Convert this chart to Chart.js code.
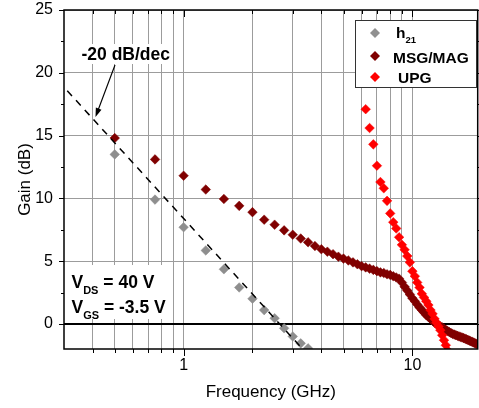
<!DOCTYPE html>
<html>
<head>
<meta charset="utf-8">
<script src="https://cdn.jsdelivr.net/npm/chart.js@4.4.1/dist/chart.umd.min.js"></script>
<style>
  html, body { margin: 0; background: #fff; overflow: hidden; }
  #wrap { width: 483px; height: 408px; }
</style>
</head>
<body>
<div id="wrap"><canvas id="chart"></canvas></div>
<script>
// data (GHz, dB)
const h21Freq = [0.5, 0.75, 1.0, 1.25, 1.5, 1.75, 2.0, 2.25, 2.5, 2.75, 3.0, 3.25, 3.5, 3.75];
const h21Gain = [13.5, 9.9, 7.7, 5.85, 4.35, 2.9, 2.0, 1.1, 0.45, -0.35, -1.0, -1.55, -1.95, -2.5];

const msgFreq = [
  0.5, 0.75, 1.0, 1.25, 1.5, 1.75, 2.0, 2.25, 2.5, 2.75,
  3.0, 3.25, 3.5, 3.75, 4.0, 4.25, 4.5, 4.75, 5.0, 5.25,
  5.5, 5.75, 6.0, 6.25, 6.5, 6.75, 7.0, 7.25, 7.5, 7.75,
  8.0, 8.25, 8.5, 8.75, 9.0, 9.25, 9.5, 9.75, 10.0, 10.25,
  10.5, 10.75, 11.0, 11.25, 11.5, 11.75, 12.0, 12.25, 12.5, 12.75,
  13.0, 13.25, 13.5, 13.75, 14.0, 14.25, 14.5, 14.75, 15.0, 15.25,
  15.5, 15.75, 16.0, 16.25, 16.5, 16.75, 17.0, 17.25, 17.5, 17.75,
  18.0, 18.25, 18.5, 18.75, 19.0, 19.25
];
const msgGain = [
  14.8, 13.1, 11.8, 10.7, 9.95, 9.4, 8.9, 8.3, 7.9, 7.45,
  7.1, 6.8, 6.5, 6.2, 5.95, 5.75, 5.55, 5.35, 5.2, 5.05,
  4.9, 4.75, 4.6, 4.5, 4.4, 4.3, 4.2, 4.1, 4.05, 3.95,
  3.9, 3.8, 3.7, 3.6, 3.3, 2.95, 2.65, 2.35, 2.05, 1.8,
  1.55, 1.3, 1.1, 0.9, 0.7, 0.55, 0.4, 0.25, 0.1, 0.0,
  -0.1, -0.2, -0.28, -0.38, -0.48, -0.57, -0.65, -0.73, -0.8, -0.85,
  -0.9, -0.95, -1.0, -1.04, -1.08, -1.13, -1.18, -1.23, -1.28, -1.33,
  -1.38, -1.43, -1.48, -1.53, -1.58, -1.63
];

const upgFreq = [
  6.25, 6.5, 6.75, 7.0, 7.25, 7.5, 7.75, 8.0, 8.25, 8.5,
  8.75, 9.0, 9.25, 9.5, 9.75, 10.0, 10.25, 10.5, 10.75, 11.0,
  11.25, 11.5, 11.75, 12.0, 12.25, 12.5, 12.75, 13.0, 13.25, 13.5,
  13.75, 14.0, 14.25
];
const upgGain = [
  17.1, 15.6, 14.3, 12.6, 11.3, 10.8, 9.8, 8.8, 8.1, 7.6,
  6.9, 6.3, 5.9, 5.4, 4.9, 4.2, 3.8, 3.3, 2.9, 2.4,
  2.1, 1.8, 1.5, 1.1, 0.8, 0.4, 0.1, -0.2, -0.5, -0.9,
  -1.3, -1.7, -2.1
];

// -20 dB/dec guide line end points
const slopeFreq = [0.31, 3.6];
const slopeGain = [18.57, -2.73];

const xGridTicks = [0.4, 0.5, 0.6, 0.7, 0.8, 0.9, 1, 2, 3, 4, 5, 6, 7, 8, 9, 10];
const xLabelTicks = [1, 10];
const yTicks = [0, 5, 10, 15, 20, 25];
const yMinorTicks = [2.5, 7.5, 12.5, 17.5, 22.5];

const FONT = "'Liberation Sans', Arial, sans-serif";

function toPoints(xs, ys) {
  return xs.map((v, i) => ({ x: v, y: ys[i] }));
}

function line(ctx, x1, y1, x2, y2) {
  ctx.beginPath();
  ctx.moveTo(x1, y1);
  ctx.lineTo(x2, y2);
  ctx.stroke();
}

function diamond(ctx, x, y, r, color) {
  ctx.fillStyle = color;
  ctx.beginPath();
  ctx.moveTo(x, y - r);
  ctx.lineTo(x + r, y);
  ctx.lineTo(x, y + r);
  ctx.lineTo(x - r, y);
  ctx.closePath();
  ctx.fill();
}

// text with a subscript part
function subText(ctx, x, y, main, sub, rest, size, subSize, subDrop) {
  ctx.font = "bold " + size + "px " + FONT;
  ctx.fillText(main, x, y);
  x += ctx.measureText(main).width;
  ctx.font = "bold " + subSize + "px " + FONT;
  ctx.fillText(sub, x, y + subDrop);
  x += ctx.measureText(sub).width;
  if (rest) {
    ctx.font = "bold " + size + "px " + FONT;
    ctx.fillText(rest, x, y);
  }
}

const decorations = {
  id: "decorations",
  afterDraw(chart) {
    const ctx = chart.ctx;
    const { left, right, top, bottom } = chart.chartArea;
    const xs = chart.scales.x;
    const ys = chart.scales.y;
    ctx.save();
    ctx.strokeStyle = "#000";

    // ticks
    ctx.lineWidth = 1;
    xGridTicks.forEach((v) => {
      const px = Math.round(xs.getPixelForValue(v)) + 0.5;
      const len = xLabelTicks.includes(v) ? 7 : 4;
      line(ctx, px, bottom, px, bottom + len);
      line(ctx, px, top, px, top + len);
    });
    yTicks.forEach((v) => {
      const py = Math.round(ys.getPixelForValue(v)) + 0.5;
      line(ctx, left - 5, py, left, py);
      line(ctx, right, py, right + 5, py);
    });
    yMinorTicks.forEach((v) => {
      const py = Math.round(ys.getPixelForValue(v)) + 0.5;
      line(ctx, left - 3, py, left, py);
      line(ctx, right, py, right + 3, py);
    });

    // frame
    ctx.lineWidth = 1.5;
    ctx.strokeRect(left, top, right - left, bottom - top);

    // legend
    ctx.fillStyle = "#fff";
    ctx.fillRect(355, 21, 121, 67);
    ctx.strokeStyle = "#333";
    ctx.lineWidth = 1;
    ctx.strokeRect(355.5, 20.5, 121, 67);
    diamond(ctx, 375, 33, 5, "#909090");
    diamond(ctx, 375, 56, 5, "#800000");
    diamond(ctx, 375, 77, 5, "#ff0000");
    ctx.fillStyle = "#000";
    ctx.textBaseline = "alphabetic";
    ctx.textAlign = "left";
    subText(ctx, 396, 38, "h", "21", "", 15.5, 9.5, 5);
    ctx.font = "bold 15.5px " + FONT;
    ctx.fillText("MSG/MAG", 393, 62.5);
    ctx.fillText("UPG", 398, 83);

    // slope annotation
    ctx.fillStyle = "#fff";
    ctx.fillRect(78, 44, 95, 20);
    ctx.fillStyle = "#000";
    ctx.font = "bold 17.5px " + FONT;
    ctx.fillText("-20 dB/dec", 81.5, 59.5);

    ctx.strokeStyle = "#000";
    ctx.lineWidth = 1.2;
    const ax1 = 115, ay1 = 65, ax2 = 95.5, ay2 = 117;
    const ang = Math.atan2(ay2 - ay1, ax2 - ax1);
    line(ctx, ax1, ay1, ax2 - 6 * Math.cos(ang), ay2 - 6 * Math.sin(ang));
    ctx.beginPath();
    ctx.moveTo(ax2, ay2);
    ctx.lineTo(ax2 - 9 * Math.cos(ang) + 3 * Math.sin(ang), ay2 - 9 * Math.sin(ang) - 3 * Math.cos(ang));
    ctx.lineTo(ax2 - 9 * Math.cos(ang) - 3 * Math.sin(ang), ay2 - 9 * Math.sin(ang) + 3 * Math.cos(ang));
    ctx.closePath();
    ctx.fill();

    // bias conditions
    ctx.fillStyle = "#fff";
    ctx.fillRect(68, 265, 100, 54);
    ctx.fillStyle = "#000";
    subText(ctx, 71.5, 287.5, "V", "DS", " = 40 V", 17.5, 11, 6);
    subText(ctx, 71.5, 312.5, "V", "GS", " = -3.5 V", 17.5, 11, 6);

    ctx.restore();
  },
};

const markerStyle = {
  pointStyle: "rectRot",
  pointRadius: 4.8,
  pointBorderWidth: 0.5,
};

new Chart(document.getElementById("chart"), {
  type: "scatter",
  data: {
    datasets: [
      {
        type: "line",
        label: "slope",
        data: toPoints(slopeFreq, slopeGain),
        borderColor: "#000",
        borderWidth: 1.5,
        borderDash: [7, 6],
        pointRadius: 0,
        fill: false,
        order: 0,
      },
      {
        label: "UPG",
        data: toPoints(upgFreq, upgGain),
        ...markerStyle,
        backgroundColor: "#ff0000",
        borderColor: "#ff0000",
        order: 1,
      },
      {
        label: "MSG/MAG",
        data: toPoints(msgFreq, msgGain),
        ...markerStyle,
        backgroundColor: "#800000",
        borderColor: "#800000",
        order: 2,
      },
      {
        label: "h21",
        data: toPoints(h21Freq, h21Gain),
        ...markerStyle,
        backgroundColor: "#8e8e8e",
        borderColor: "#8e8e8e",
        order: 3,
      },
    ],
  },
  options: {
    responsive: true,
    maintainAspectRatio: false,
    animation: false,
    layout: { padding: { top: 10, right: 1, left: 0, bottom: 0 } },
    plugins: {
      legend: { display: false },
      tooltip: { enabled: false },
    },
    scales: {
      x: {
        type: "logarithmic",
        min: 0.3,
        max: 19.3,
        afterBuildTicks: (scale) => {
          scale.ticks = xGridTicks.map((v) => ({ value: v }));
        },
        afterFit: (scale) => {
          scale.height = 59;
          scale.paddingLeft = 0;
          scale.paddingRight = 0;
        },
        grid: { color: "#9c9c9c", lineWidth: 1, drawTicks: false },
        border: { display: false },
        ticks: {
          autoSkip: false,
          maxRotation: 0,
          padding: 7,
          color: "#000",
          font: { family: FONT, size: 16 },
          callback: (v) => (xLabelTicks.includes(v) ? String(v) : ""),
        },
        title: {
          display: true,
          text: "Frequency (GHz)",
          color: "#000",
          font: { family: FONT, size: 17 },
          padding: { top: 0, bottom: 5 },
        },
      },
      y: {
        min: -2,
        max: 25,
        afterBuildTicks: (scale) => {
          scale.ticks = yTicks.map((v) => ({ value: v }));
        },
        afterFit: (scale) => {
          scale.width = 64;
          scale.paddingTop = 0;
          scale.paddingBottom = 0;
        },
        grid: {
          drawTicks: false,
          color: (c) => (c.tick && c.tick.value === 0 ? "#000" : "#9c9c9c"),
          lineWidth: (c) => (c.tick && c.tick.value === 0 ? 2 : 1),
        },
        border: { display: false },
        ticks: {
          padding: 11,
          color: "#000",
          font: { family: FONT, size: 16 },
        },
        title: {
          display: true,
          text: "Gain (dB)",
          color: "#000",
          font: { family: FONT, size: 17 },
          padding: { top: 15, bottom: 0 },
        },
      },
    },
  },
  plugins: [decorations],
});
</script>
</body>
</html>
